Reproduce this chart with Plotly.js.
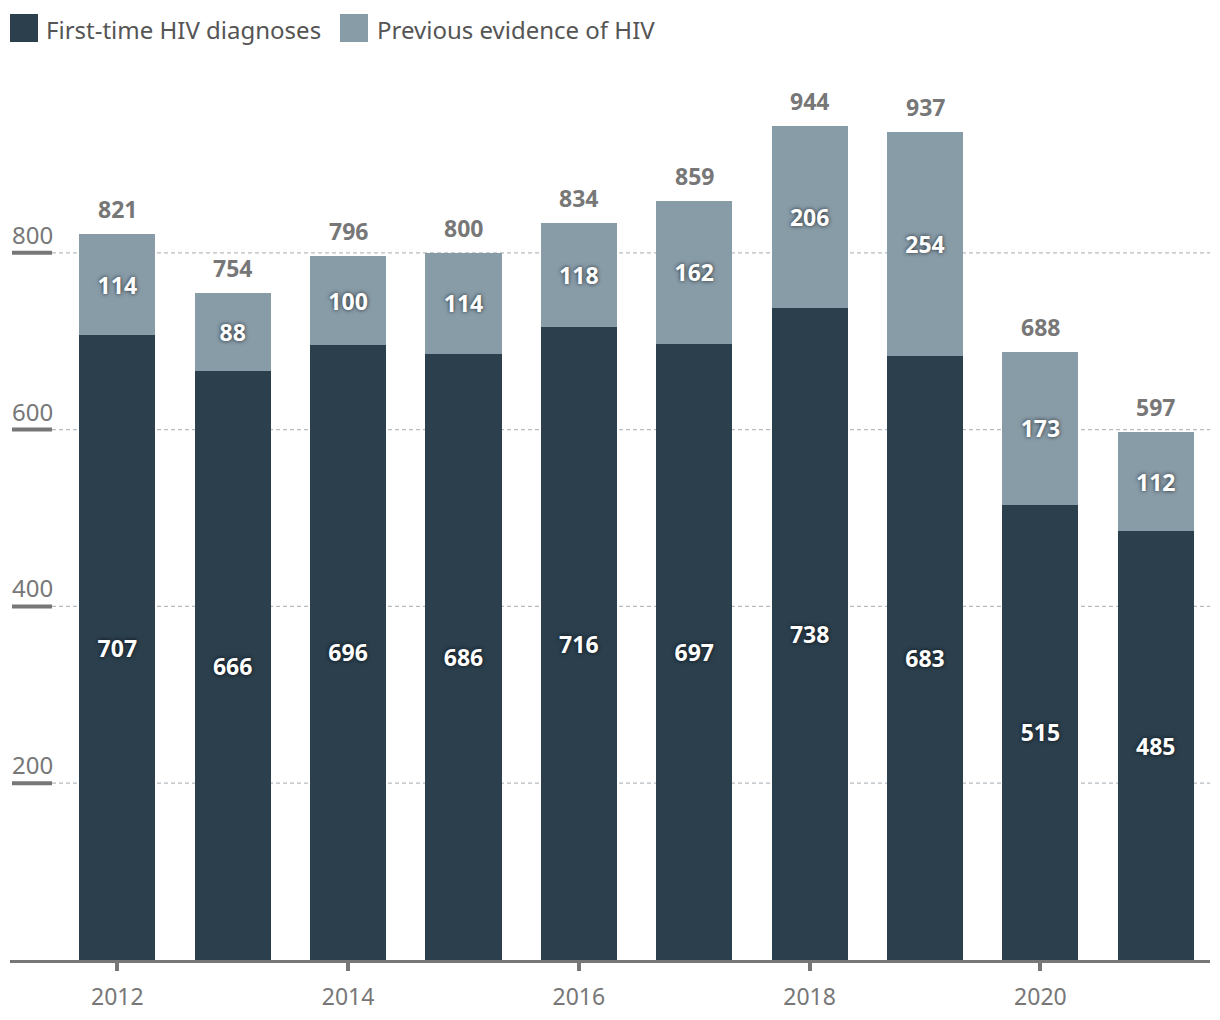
<!DOCTYPE html>
<html>
<head>
<meta charset="utf-8">
<script src="https://cdn.plot.ly/plotly-3.0.1.min.js"></script>
<style>html,body{margin:0;padding:0;background:#fff;}#chart{width:1220px;height:1020px;}</style>
</head>
<body>
<div id="chart"></div>
<script>
const years = [2012, 2013, 2014, 2015, 2016, 2017, 2018, 2019, 2020, 2021];
const firstTime = [707, 666, 696, 686, 716, 697, 738, 683, 515, 485];
const previous = [114, 88, 100, 114, 118, 162, 206, 254, 173, 112];
const seriesNames = ["First-time HIV diagnoses", "Previous evidence of HIV"];
const yTicks = [200, 400, 600, 800];
const xTicks = [2012, 2014, 2016, 2018, 2020];

const darkColor = "#2b3f4d";
const lightColor = "#889ca8";
const grey = "#777777";
const fontFam = "'Noto Sans', 'Open Sans', sans-serif";

const totals = years.map((y, i) => firstTime[i] + previous[i]);

const innerFont = {family: fontFam, size: 23, color: "#ffffff", weight: 700, shadow: "0px 0px 4px rgba(0,0,0,0.75)"};

const traces = [
  {
    type: "bar", x: years, y: firstTime, name: seriesNames[0],
    marker: {color: darkColor}, text: firstTime.map(String),
    textposition: "inside", insidetextanchor: "middle", textangle: 0,
    textfont: innerFont, hoverinfo: "skip", showlegend: false
  },
  {
    type: "bar", x: years, y: previous, name: seriesNames[1],
    marker: {color: lightColor}, text: previous.map(String),
    textposition: "inside", insidetextanchor: "middle", textangle: 0,
    textfont: innerFont, hoverinfo: "skip", showlegend: false
  }
];

const gridLeft = 42 / 1200;
const shapes = [];
const annotations = [];
yTicks.forEach(v => {
  shapes.push({type: "line", xref: "paper", yref: "y", x0: gridLeft, x1: 1, y0: v, y1: v,
    line: {color: "#b5bcc2", width: 1.3, dash: "4px,3px"}, layer: "below"});
  shapes.push({type: "line", xref: "paper", yref: "y", x0: 2 / 1200, x1: gridLeft, y0: v, y1: v,
    line: {color: grey, width: 4}, layer: "above"});
  annotations.push({xref: "paper", yref: "y", x: 0, y: v, xanchor: "left", yanchor: "bottom",
    xshift: 0, yshift: 0, text: String(v), showarrow: false,
    font: {family: fontFam, size: 24, color: grey}});
});
years.forEach((yr, i) => {
  annotations.push({xref: "x", yref: "y", x: yr, y: totals[i], xanchor: "center", yanchor: "bottom",
    yshift: 7, text: String(totals[i]), showarrow: false,
    font: {family: fontFam, size: 23, color: grey, weight: 700}});
});

// custom legend
const legendItems = [
  {x0: 10, x1: 38, tx: 44, color: darkColor, name: seriesNames[0]},
  {x0: 340, x1: 368, tx: 375, color: lightColor, name: seriesNames[1]}
];
legendItems.forEach(it => {
  shapes.push({type: "rect", xref: "paper", yref: "paper",
    x0: (it.x0 - 10) / 1200, x1: (it.x1 - 10) / 1200,
    y0: 1 + (76 - 42) / 884, y1: 1 + (76 - 14) / 884,
    fillcolor: it.color, line: {width: 0}});
  annotations.push({xref: "paper", yref: "paper", x: (it.tx - 10) / 1200, y: 1 + (76 - 30) / 884,
    xanchor: "left", yanchor: "middle", text: it.name, showarrow: false,
    font: {family: fontFam, size: 24, color: "#555555"}});
});

const layout = {
  width: 1220, height: 1020,
  margin: {l: 10, r: 10, t: 76, b: 60},
  paper_bgcolor: "#ffffff", plot_bgcolor: "#ffffff",
  barmode: "stack", bargap: 0.34,
  showlegend: false,
  xaxis: {
    type: "linear", range: [2011.07, 2021.47], tickvals: xTicks, ticktext: xTicks.map(String),
    ticks: "outside", ticklen: 8, tickwidth: 4, tickcolor: grey,
    showline: true, linecolor: grey, linewidth: 3, showgrid: false, zeroline: false,
    ticklabelstandoff: 6,
    tickfont: {family: fontFam, size: 23, color: grey}, fixedrange: true
  },
  yaxis: {
    range: [0, 1000], showgrid: false, zeroline: false, showticklabels: false,
    showline: false, ticks: "", fixedrange: true
  },
  shapes: shapes,
  annotations: annotations,
  font: {family: fontFam}
};

Plotly.newPlot("chart", traces, layout, {displayModeBar: false, staticPlot: true});
</script>
</body>
</html>
